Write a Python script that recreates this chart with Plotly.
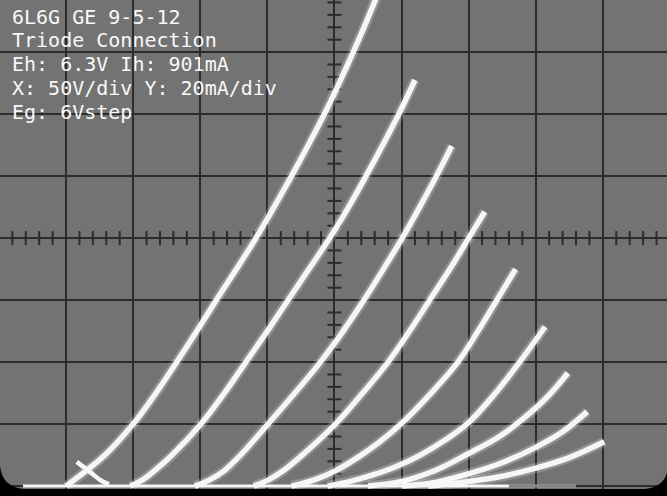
import plotly.graph_objects as go
import numpy as np

# ---- data (plate voltage V, plate current mA), Eg steps of -6 V ----
grid_volts = [0, -6, -12, -18, -24, -30, -36, -42, -48]

va_0 = [0, 29, 50, 67, 82.5, 97.5, 112, 127, 141.5, 155, 168, 180.5, 192.5,
        203.5, 214, 224, 233.5]
ia_0 = [0, 10, 20, 30, 40, 50, 60, 70, 80, 90, 100, 110, 120, 130, 140, 150, 160]

va_6 = [48, 57, 66, 79, 100.5, 118, 134, 150, 165.5, 181, 196.5, 210.5, 223.5,
        236, 248, 260]
ia_6 = [0, 2, 5, 10, 20, 30, 40, 50, 60, 70, 80, 90, 100, 110, 120, 131]

va_12 = [96, 107, 118, 130, 150.5, 170.5, 189.5, 206.5, 222, 236.5, 250.5,
         263.5, 276, 287.4]
ia_12 = [0, 2, 5, 10, 20, 30, 40, 50, 60, 70, 80, 90, 100, 109.7]

va_18 = [140, 151, 162, 176, 200.7, 221, 240, 256, 271, 286, 300, 312]
ia_18 = [0, 2, 5, 10, 20, 30, 40, 50, 60, 70, 80, 88.5]

va_24 = [168, 185, 201, 220, 233, 249.5, 272, 292, 307, 321, 335]
ia_24 = [0, 2, 5, 10, 14, 20, 30, 40, 50, 60, 70]

va_30 = [195, 212, 228, 247, 264, 283, 300, 320, 338, 357]
ia_30 = [0, 1.5, 3.5, 6.5, 10, 15, 20.5, 30, 40, 51.4]

va_36 = [225, 250, 275, 300, 323, 340, 358, 374]
ia_36 = [0, 1.5, 5, 10.5, 16, 21.5, 28.5, 36.5]

va_42 = [250, 275, 300, 323, 350, 370, 388.4]
ia_42 = [0, 1.2, 4, 7.2, 12.5, 17.5, 24]

va_48 = [270, 300, 323, 350, 375, 401]
ia_48 = [0, 1.5, 3, 5.8, 9.2, 14.3]

retrace_v = [8, 18, 26, 32]
retrace_i = [7.8, 4.5, 1.8, 0.6]

baseline_v = [-32, 330]
baseline_i = [0, 0]

label_lines = [
    "6L6G GE 9-5-12",
    "Triode Connection",
    "Eh: 6.3V Ih: 901mA",
    "X: 50V/div Y: 20mA/div",
    "Eg: 6Vstep",
]

curves = [(va_0, ia_0), (va_6, ia_6), (va_12, ia_12), (va_18, ia_18),
          (va_24, ia_24), (va_30, ia_30), (va_36, ia_36), (va_42, ia_42),
          (va_48, ia_48)]

W, H = 667, 496
XR = [-49.2, 447.8]
YR = [-3.2, 156.8]
BG = "#737373"
GRID = "#2c2c2c"
TRACE = "#f6f6f6"
GLOW = "rgba(255,255,255,0.22)"

fig = go.Figure()

# graticule minor ticks on centre lines
mx = [v for v in np.arange(-40, 450, 10) if v % 50 != 0]
fig.add_trace(go.Scatter(x=mx, y=[80] * len(mx), mode="markers",
                         marker=dict(symbol="line-ns", size=10,
                                     line=dict(color=GRID, width=2)),
                         hoverinfo="skip", showlegend=False))
my = [v for v in np.arange(0, 160, 4) if v % 20 != 0]
fig.add_trace(go.Scatter(x=[200] * len(my), y=my, mode="markers",
                         marker=dict(symbol="line-ew", size=10,
                                     line=dict(color=GRID, width=2)),
                         hoverinfo="skip", showlegend=False))

# baseline (zero current)
fig.add_trace(go.Scatter(x=baseline_v, y=baseline_i, mode="lines",
                         line=dict(color=TRACE, width=3),
                         hoverinfo="skip", showlegend=False))
fig.add_trace(go.Scatter(x=[330, 380], y=[0, 0], mode="lines",
                         line=dict(color="rgba(240,240,240,0.45)", width=3),
                         hoverinfo="skip", showlegend=False))

for (vv, ii), eg in zip(curves, grid_volts):
    fig.add_trace(go.Scatter(x=vv, y=ii, mode="lines",
                             line=dict(color=GLOW, width=10, shape="spline",
                                       smoothing=1.0),
                             hoverinfo="skip", showlegend=False))
    fig.add_trace(go.Scatter(x=vv, y=ii, mode="lines", name=f"Eg={eg}V",
                             line=dict(color=TRACE, width=5.5, shape="spline",
                                       smoothing=1.0),
                             showlegend=False))

fig.add_trace(go.Scatter(x=retrace_v, y=retrace_i, mode="lines",
                         line=dict(color=TRACE, width=4.5, shape="spline"),
                         hoverinfo="skip", showlegend=False))

# text
line_px = [17, 40, 64.5, 88, 111.5]
for txt, py in zip(label_lines, line_px):
    fig.add_annotation(text=txt, xref="paper", yref="paper",
                       x=10 / W, y=1 - py / H, xanchor="left", yanchor="middle",
                       showarrow=False,
                       font=dict(family="DejaVu Sans Mono", size=20,
                                 color="#f8f8f8"))

def P(x, y):
    return f"{x / W:.5f},{1 - y / H:.5f}"

shapes = [
    dict(type="rect", xref="paper", yref="paper", x0=0, x1=1,
         y0=0, y1=1 - 489 / H, fillcolor="black", line_width=0, layer="above"),
    dict(type="path", xref="paper", yref="paper",
         path=f"M {P(0,466)} Q {P(2,487)} {P(24,489)} L {P(24,497)} L {P(0,497)} Z",
         fillcolor="black", line_width=0, layer="above"),
    dict(type="path", xref="paper", yref="paper",
         path=f"M {P(667,473)} Q {P(663,487)} {P(645,489)} L {P(645,497)} L {P(667,497)} Z",
         fillcolor="black", line_width=0, layer="above"),
]

fig.update_layout(
    width=W, height=H, margin=dict(l=0, r=0, t=0, b=0),
    plot_bgcolor=BG, paper_bgcolor=BG, shapes=shapes,
    xaxis=dict(range=XR, tick0=0, dtick=50, showgrid=True, gridcolor=GRID,
               gridwidth=2, zeroline=False, showticklabels=False, ticks="",
               fixedrange=True),
    yaxis=dict(range=YR, tick0=0, dtick=20, showgrid=True, gridcolor=GRID,
               gridwidth=2, zeroline=False, showticklabels=False, ticks="",
               fixedrange=True),
)

fig.write_html(
    "out.html",
    config={"displayModeBar": False},
    post_script="document.body.style.margin='0';"
                "document.body.style.overflow='hidden';"
                "document.documentElement.style.background='#737373';",
)
